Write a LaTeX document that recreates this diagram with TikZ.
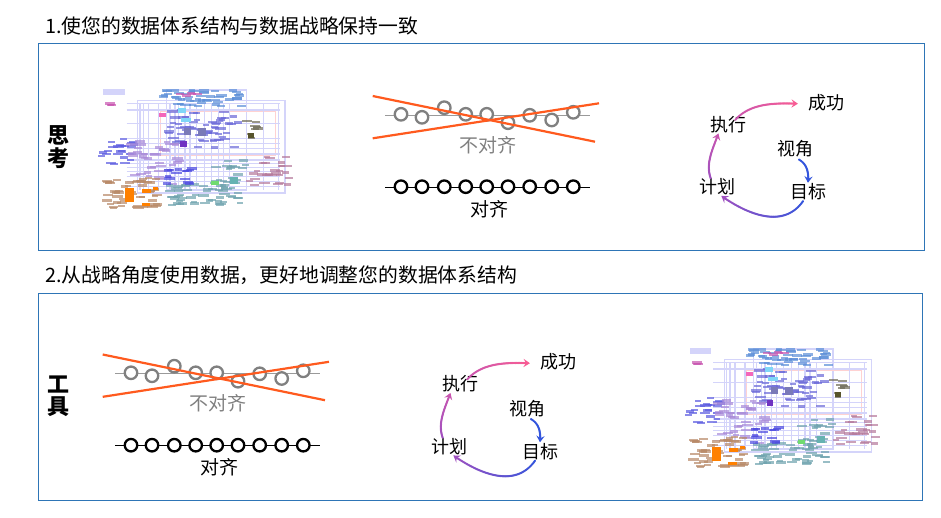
\documentclass[tikz,border=0pt]{standalone}
\usepackage{fontspec}
\setmainfont{Noto Sans CJK SC}
\usetikzlibrary{arrows.meta,decorations.markings}

\definecolor{framec}{HTML}{2E75B6}
\definecolor{crossc}{HTML}{FF5A1E}
\definecolor{greyc}{HTML}{808080}
\definecolor{pinkc}{HTML}{F85C94}
\definecolor{magc}{HTML}{C855B0}
\definecolor{purpc}{HTML}{A050C0}
\definecolor{bluec}{HTML}{3355DD}
\definecolor{linkc}{HTML}{D4D4FA}
\definecolor{skyblob}{HTML}{5C8FD8}
\definecolor{midblob}{HTML}{6A68D8}
\definecolor{leftblob}{HTML}{5A5AE0}
\definecolor{lilacblob}{HTML}{A98AD8}
\definecolor{brownblob}{HTML}{B98A68}
\definecolor{tealblob}{HTML}{6FA3AE}
\definecolor{deepblob}{HTML}{4A48E0}
\definecolor{darkblob}{HTML}{6E6A58}
\definecolor{mauveblob}{HTML}{B57A9C}

\tikzset{
  panel/.style={draw=framec,line width=0.8pt},
  heading/.style={anchor=west,inner sep=0pt,font=\fontsize{19.8}{20}\selectfont},
  sidelabel/.style={inner sep=0pt,font=\fontsize{22}{22}\selectfont\bfseries},
  cyclelabel/.style={inner sep=1pt,font=\fontsize{18}{18}\selectfont},
  ringlabel/.style={inner sep=0pt,font=\fontsize{19}{19}\selectfont},
  ring/.style={circle,draw=#1,fill=white,line width=2.3pt,minimum size=12.5pt,inner sep=0pt},
  crossline/.style={crossc,line width=2.2pt},
  gradline/.style 2 args={decoration={markings,
      mark=between positions 0 and 0.97 step 0.6pt with {
        \pgfmathsetmacro\mixval{100*\pgfkeysvalueof{/pgf/decoration/mark info/distance from start}/\pgfdecoratedpathlength}
        \fill[#2!\mixval!#1] (0,0) circle (1.1pt);},
      mark=at position 1 with {\fill[#2] (-6pt,-4.2pt) -- (0.5pt,0) -- (-6pt,4.2pt) -- (-3.5pt,0) -- cycle;}},
    postaction={decorate}},
}

\newcommand{\blobgroup}[6]{
  \foreach \n in {1,...,#6} {
    \pgfmathsetmacro\bx{#2+#4*(2*rnd-1)}
    \pgfmathsetmacro\by{#3+#5*(2*rnd-1)}
    \pgfmathsetmacro\bw{9+7*rnd}
    \fill[#1,opacity=.7] (\bx-\bw,\by-3.5) rectangle (\bx+\bw,\by+3.5);
  }
}

\newcommand{\datamap}{
  \pgfmathsetseed{41}
  \fill[linkc] (40,28) rectangle (104,46);
  \draw[linkc,line width=1.6pt] (143,62) rectangle (585,340);
  \draw[linkc,line width=1.6pt] (230,30) rectangle (470,330);
  \draw[pink!70,line width=.6pt] (210,95) rectangle (555,225);
  \foreach \x in {150,160,175,205,240,255,265,285,300,320,345,365,385,400,420,520,565} {
    \draw[linkc,line width=1.2pt] (\x,70) -- (\x,330);
  }
  \foreach \y in {70,90,130,175,190,205,222,240,250,262,275,290,305,320} {
    \draw[linkc,line width=1.2pt] (110,\y) -- (570,\y);
  }
  \blobgroup{magc}{60}{74}{8}{6}{3}
  \blobgroup{skyblob}{340}{55}{120}{25}{50}
  \blobgroup{midblob}{340}{150}{105}{60}{60}
  \blobgroup{leftblob}{85}{215}{50}{38}{24}
  \blobgroup{lilacblob}{195}{250}{75}{65}{40}
  \blobgroup{brownblob}{125}{340}{78}{45}{55}
  \blobgroup{tealblob}{340}{345}{110}{32}{55}
  \blobgroup{tealblob}{420}{275}{50}{35}{20}
  \blobgroup{deepblob}{270}{290}{40}{25}{14}
  \blobgroup{darkblob}{490}{150}{22}{28}{8}
  \blobgroup{mauveblob}{540}{270}{62}{50}{28}
  \blobgroup{magc}{300}{42}{40}{8}{5}
  \fill[orange] (105,325) rectangle (132,365);
  \fill[orange] (157,328) rectangle (183,338);
  \fill[orange] (155,370) rectangle (180,377);
  \fill[orange] (190,322) rectangle (204,330);
  \fill[cyan!50] (265,85) rectangle (288,100);
  \fill[cyan!50] (273,113) rectangle (303,127);
  \fill[magenta!60] (207,100) rectangle (228,112);
  \fill[blue!30!gray!80] (283,145) rectangle (303,165);
  \fill[blue!30!gray!80] (324,145) rectangle (348,168);
  \fill[violet!60!blue!80] (270,183) rectangle (290,200);
  \fill[green!60!gray!70] (363,302) rectangle (386,315);
  \fill[black!50!olive] (475,160) rectangle (492,173);
  \fill[teal!60] (420,292) rectangle (445,312);
}

\newcommand{\alignpanel}{
  \coordinate (a) at (385,115);
  \coordinate (b) at (590,115);
  \draw[greyc!80,line width=1pt] (a) -- (b);
  \foreach \i/\x/\y in {1/401/114.3,2/422/117.3,3/444.3/107.7,4/465.7/114.3,5/486.7/114.3,6/508/122.7,7/529.7/115.3,8/551.7/120,9/573.3/112.3} {
    \node[ring=greyc] (g\i) at (\x,\y) {};
  }
  \coordinate (c) at (372.7,96);
  \coordinate (d) at (595,141.7);
  \coordinate (e) at (372.7,138.3);
  \coordinate (f) at (599,103.3);
  \draw[crossline] (c) -- (d);
  \draw[crossline] (e) -- (f);
  \node[ringlabel,text=greyc] (no) at (488.3,145) {不对齐};
  \coordinate (h) at (385,187);
  \coordinate (i) at (590,187);
  \draw[black,line width=1pt] (h) -- (i);
  \foreach \i/\x in {1/401,2/422,3/444.3,4/465.7,5/486.7,6/508,7/529.7,8/551.7,9/573.3} {
    \node[ring=black] (k\i) at (\x,186.7) {};
  }
  \node[ringlabel] (yes) at (489.3,209) {对齐};
}

\newcommand{\cyclepanel}{
  \node[cyclelabel] (win) at (826.7,102.7) {成功};
  \node[cyclelabel] (exec) at (728.3,124.3) {执行};
  \node[cyclelabel] (view) at (795,149) {视角};
  \node[cyclelabel] (goal) at (808,191.7) {目标};
  \node[cyclelabel] (plan) at (717.7,186.7) {计划};
  \path (exec.north) ++(7,5) coordinate (s1);
  \path[gradline={magc}{pinkc}] (s1) to[out=48,in=178,looseness=.9] ([xshift=-10pt,yshift=-1pt]win.west);
  \path (plan.north) ++(-7,1) coordinate (s2);
  \path (exec.south) ++(-10,0) coordinate (t2);
  \path[gradline={purpc}{magc}] (s2) to[out=110,in=-110,looseness=.9] (t2);
  \path (view.south) ++(4,1) coordinate (s3);
  \path[gradline={bluec}{bluec}] (s3) to[out=-30,in=85] (goal.north);
  \path (goal.south) ++(-5,0) coordinate (s4);
  \path (plan.south) ++(4,0) coordinate (t4);
  \path[gradline={bluec}{purpc}] (s4) to[out=-125,in=-35,looseness=1.05] (t4);
}

\begin{document}
\begin{tikzpicture}[x=1pt,y=-1pt]
  \useasboundingbox (0,0) rectangle (941,517);
  \fill[white] (0,0) rectangle (941,517);
  \node[heading] (title1) at (45,26) {1.使您的数据体系结构与数据战略保持一致};
  \node[heading] (title2) at (45,275) {2.从战略角度使用数据^^^^ff0c更好地调整您的数据体系结构};
  \draw[panel] (38,43) rectangle (924,250);
  \draw[panel] (38,293) rectangle (922,500);
  \node[sidelabel] (think1) at (58,135) {思};
  \node[sidelabel] (think2) at (58,158) {考};
  \node[sidelabel] (tool1) at (58,385) {工};
  \node[sidelabel] (tool2) at (58,407) {具};
  \begin{scope}[shift={(90,80)},x=.333pt,y=-.333pt]
    \datamap
  \end{scope}
  \begin{scope}[name prefix=top-]
    \alignpanel
    \cyclepanel
  \end{scope}
  \begin{scope}[shift={(676.7,339)},x=.333pt,y=-.333pt]
    \datamap
  \end{scope}
  \begin{scope}[shift={(-270,258.5)},name prefix=low-]
    \alignpanel
  \end{scope}
  \begin{scope}[shift={(-268,259.5)},name prefix=low-]
    \cyclepanel
  \end{scope}
\end{tikzpicture}
\end{document}
